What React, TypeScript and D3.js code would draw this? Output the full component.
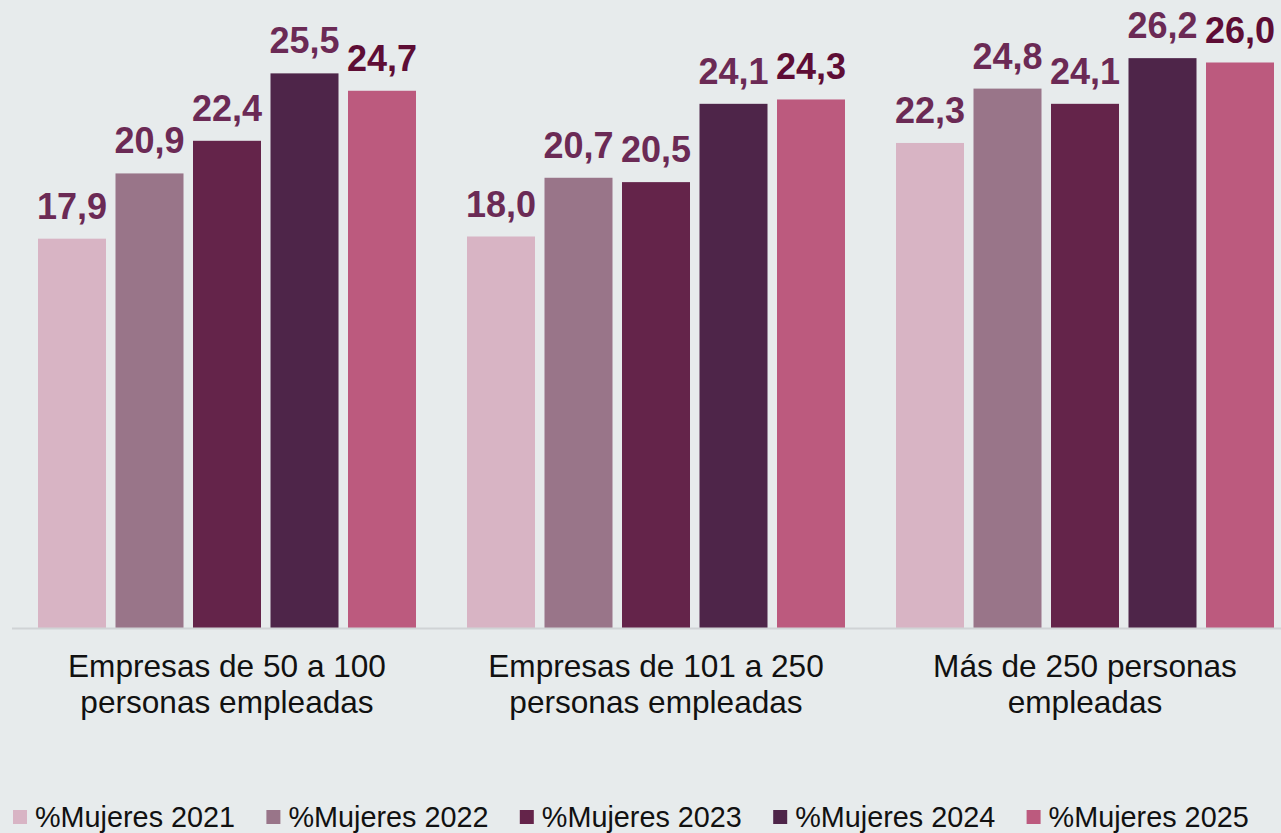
import React from "react";
import * as d3 from "d3";

const categories: string[][] = [
  ["Empresas de 50 a 100", "personas empleadas"],
  ["Empresas de 101 a 250", "personas empleadas"],
  ["Más de 250 personas", "empleadas"],
];
const seriesNames = ["%Mujeres 2021", "%Mujeres 2022", "%Mujeres 2023", "%Mujeres 2024", "%Mujeres 2025"];
const values2021 = [17.9, 18.0, 22.3];
const values2022 = [20.9, 20.7, 24.8];
const values2023 = [22.4, 20.5, 24.1];
const values2024 = [25.5, 24.1, 26.2];
const values2025 = [24.7, 24.3, 26.0];
const seriesValues = [values2021, values2022, values2023, values2024, values2025];
const seriesColors = ["#D8B4C4", "#997589", "#64244A", "#4E2549", "#BC5A7E"];
const labelColors = ["#6B2A55", "#6B2A55", "#6B2A55", "#6B2A55", "#5E0D35"];

const W = 1281;
const H = 833;
const baseY = 628;

export default function App() {
  const catIdx = categories.map((_, i) => String(i));
  const x0 = d3.scaleBand<string>().domain(catIdx).range([12.5, 1299.5]).padding(0);
  const x1 = d3
    .scaleBand<string>()
    .domain(seriesNames)
    .range([25.5, x0.bandwidth() - 25.5])
    .paddingInner(0.1226)
    .paddingOuter(0);
  const y = d3.scaleLinear().domain([0, 30]).range([baseY, baseY - 30 * 21.75]);
  const fmt = (v: number) => v.toFixed(1).replace(".", ",");
  const font = "'Liberation Sans', Arial, sans-serif";

  return (
    <svg
      width={W}
      height={H}
      style={{ position: "absolute", left: 0, top: 0, display: "block" }}
    >
      <rect x={0} y={0} width={W} height={H} fill="#E7EBEC" />
      {catIdx.map((c, ci) => (
        <g key={c} transform={`translate(${x0(c)},0)`}>
          {seriesNames.map((s, si) => {
            const v = seriesValues[si][ci];
            const bx = x1(s)!;
            return (
              <g key={s}>
                <rect
                  x={bx}
                  y={y(v)}
                  width={x1.bandwidth()}
                  height={baseY - y(v)}
                  fill={seriesColors[si]}
                />
                <text
                  x={bx + x1.bandwidth() / 2}
                  y={y(v) - 20}
                  textAnchor="middle"
                  fontFamily={font}
                  fontWeight="bold"
                  fontSize={36}
                  fill={labelColors[si]}
                >
                  {fmt(v)}
                </text>
              </g>
            );
          })}
          {categories[ci].map((line, li) => (
            <text
              key={li}
              x={x0.bandwidth() / 2}
              y={677 + li * 36}
              textAnchor="middle"
              fontFamily={font}
              fontSize={31.6}
              fill="#111"
            >
              {line}
            </text>
          ))}
        </g>
      ))}
      <line x1={12} x2={W} y1={baseY + 0.5} y2={baseY + 0.5} stroke="#D0D3D5" strokeWidth={2} />
      {seriesNames.map((s, si) => {
        const lx = 13 + si * 253.4;
        return (
          <g key={s}>
            <rect x={lx} y={810} width={14} height={14} fill={seriesColors[si]} />
            <text x={lx + 22} y={827} fontFamily={font} fontSize={28.8} fill="#111">
              {s}
            </text>
          </g>
        );
      })}
    </svg>
  );
}
